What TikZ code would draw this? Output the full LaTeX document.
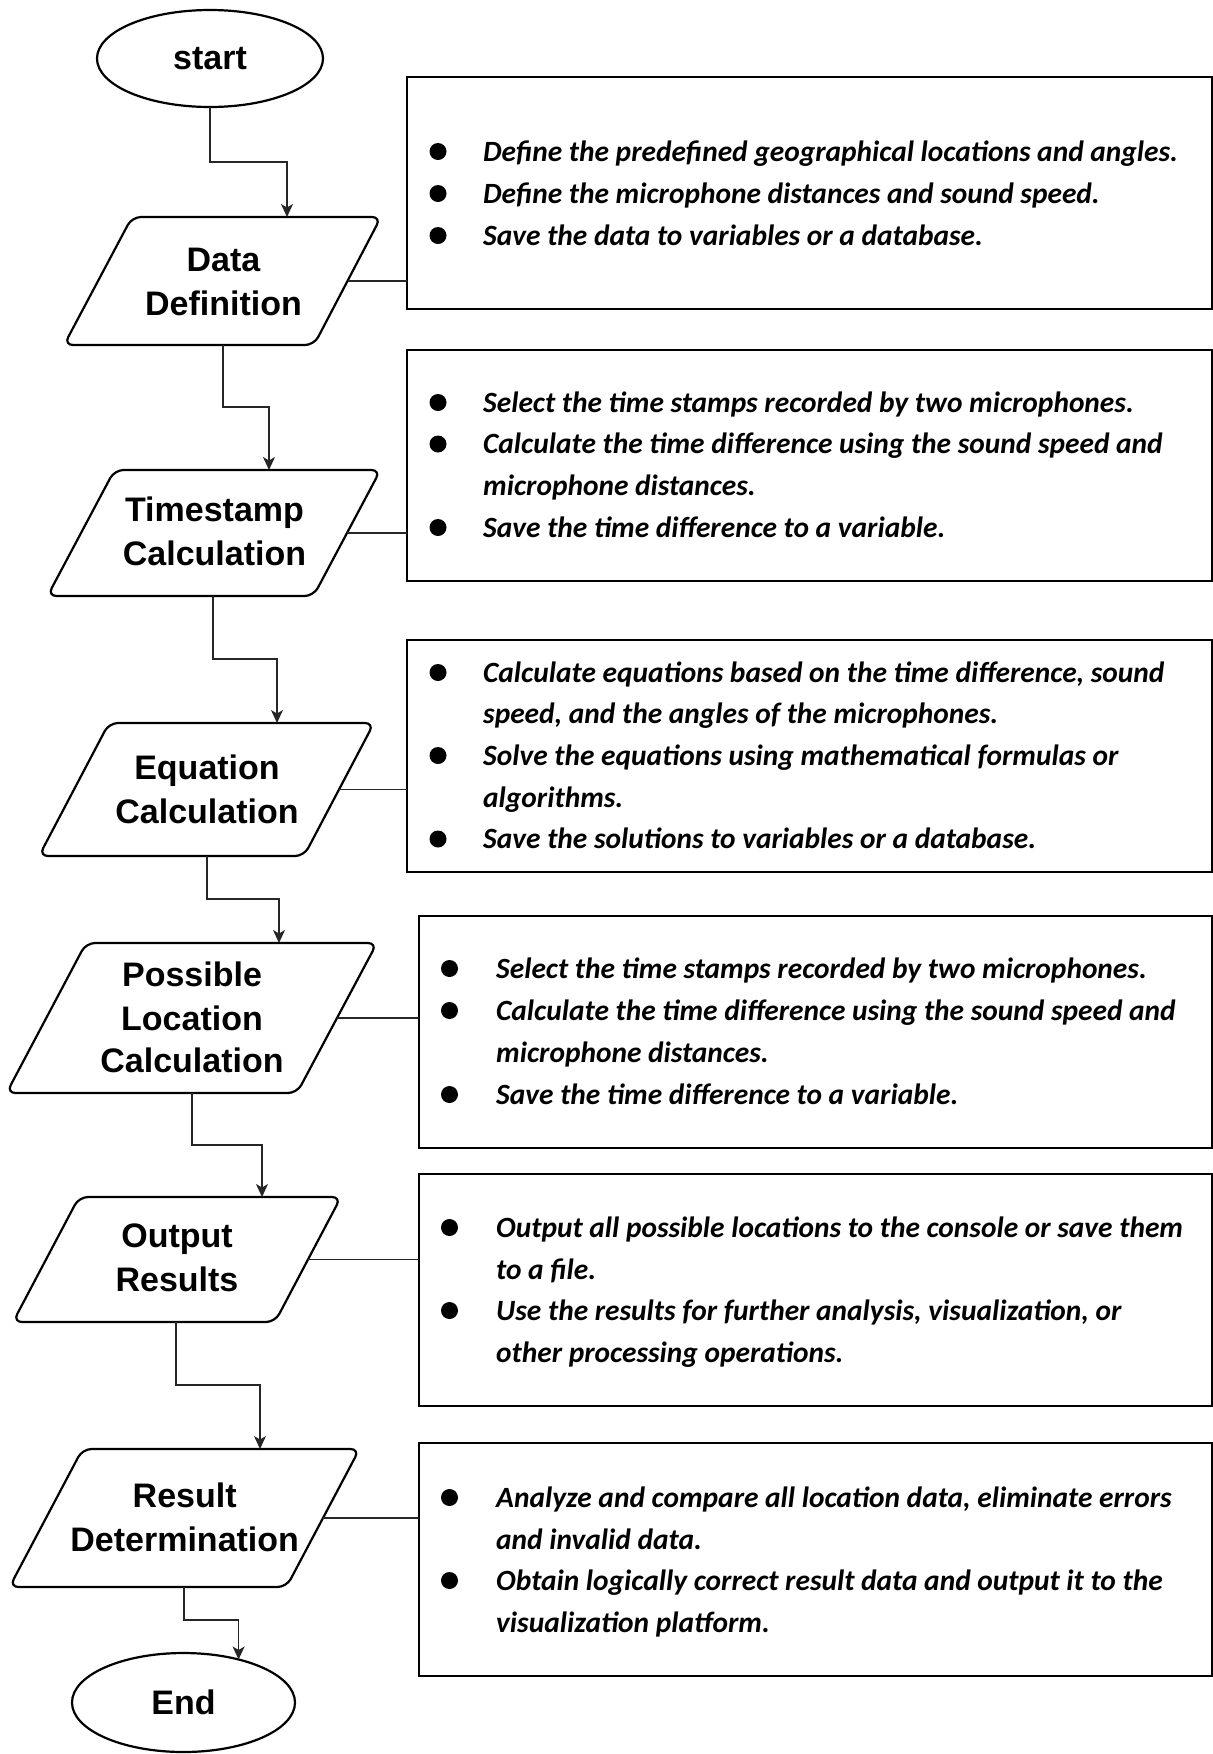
\documentclass[tikz,border=0pt]{standalone}
\usepackage{fontspec}
\setmainfont{Liberation Sans}
\newfontfamily\ffont{Liberation Sans}
\newfontfamily\cfont{Carlito}
\usetikzlibrary{shapes.geometric,arrows.meta}
\begin{document}
\begin{tikzpicture}[x=1pt,y=-1pt,
  shp/.style={draw=black, line width=2.2pt, rounded corners=9pt, line join=round},
  term/.style={ellipse, draw=black, line width=2.2pt, inner sep=0pt, outer sep=0pt, font=\ffont\bfseries\fontsize{34}{44}\selectfont},
  ftext/.style={anchor=base, inner sep=0pt, font=\ffont\bfseries\fontsize{34}{44}\selectfont},
  infobox/.style={draw=black, line width=1.3pt, anchor=north west, inner sep=0pt, outer sep=0pt},
  btext/.style={anchor=base west, inner sep=0pt, font=\cfont\bfseries\itshape\fontsize{29.4}{42}\selectfont},
  conn/.style={draw=black!85, line width=1.4pt},
  arr/.style={conn, -{Stealth[length=13pt,width=12pt,inset=3.5pt]}},
  bul/.style={fill=black}
]
\useasboundingbox (0,0) rectangle (1213,1754);

% terminals
\node[term, minimum width=226pt, minimum height=97pt] (start) at (210,58.5) {start};
\node[term, minimum width=223pt, minimum height=99pt] (end) at (183.5,1702.5) {End};

% parallelograms
\draw[shp] (256,217) -- (381,217) -- (314,345) -- (64,345) -- (132,217) -- cycle;
\node[ftext] (dd1) at (223.5,271) {Data};
\node[ftext] (dd2) at (223.5,315) {Definition};
\coordinate (dd-n) at (287,217); \coordinate (dd-s) at (223,345); \coordinate (dd-e) at (347.5,281);

\draw[shp] (250,470) -- (380.5,470) -- (313.5,596) -- (47.5,596) -- (114.5,470) -- cycle;
\node[ftext] (ts1) at (214.5,521.7) {Timestamp};
\node[ftext] (ts2) at (214.5,565.7) {Calculation};
\coordinate (ts-n) at (269,470); \coordinate (ts-s) at (213,596); \coordinate (ts-e) at (347,533);

\draw[shp] (240,723) -- (374,723) -- (304,856) -- (39,856) -- (109,723) -- cycle;
\node[ftext] (eq1) at (207,779) {Equation};
\node[ftext] (eq2) at (207,823) {Calculation};
\coordinate (eq-n) at (277,723); \coordinate (eq-s) at (207,856); \coordinate (eq-e) at (339,789.5);

\draw[shp] (230,943) -- (377,943) -- (297,1093) -- (6.5,1093) -- (86,943) -- cycle;
\node[ftext] (pl1) at (192,986) {Possible};
\node[ftext] (pl2) at (192,1030) {Location};
\node[ftext] (pl3) at (192,1072.7) {Calculation};
\coordinate (pl-n) at (279,943); \coordinate (pl-s) at (192,1093); \coordinate (pl-e) at (337,1018);

\draw[shp] (210,1197) -- (341,1197) -- (275,1322) -- (13,1322) -- (79,1197) -- cycle;
\node[ftext] (or1) at (177,1247.7) {Output};
\node[ftext] (or2) at (177,1291.7) {Results};
\coordinate (or-n) at (262,1197); \coordinate (or-s) at (176,1322); \coordinate (or-e) at (308,1259.5);

\draw[shp] (220,1449) -- (359.5,1449) -- (286.5,1587) -- (9.5,1587) -- (82.5,1449) -- cycle;
\node[ftext] (rd1) at (184.7,1507) {Result};
\node[ftext] (rd2) at (184.7,1551.7) {Determination};
\coordinate (rd-n) at (260,1449); \coordinate (rd-s) at (184,1587); \coordinate (rd-e) at (323,1518);

% info boxes
\node[infobox, minimum width=805pt, minimum height=232pt] (box1) at (407,77) {};
\node[infobox, minimum width=805pt, minimum height=231pt] (box2) at (407,350) {};
\node[infobox, minimum width=805pt, minimum height=232pt] (box3) at (407,640) {};
\node[infobox, minimum width=793pt, minimum height=232pt] (box4) at (419,916) {};
\node[infobox, minimum width=793pt, minimum height=232pt] (box5) at (419,1174) {};
\node[infobox, minimum width=793pt, minimum height=233pt] (box6) at (419,1443) {};

% flow connectors
\coordinate (j1) at (210,162);
\coordinate (j2) at (223,407);
\coordinate (j3) at (213,659);
\coordinate (j4) at (207,899);
\coordinate (j5) at (192,1145);
\coordinate (j6) at (176,1385);
\coordinate (j7) at (184,1620);
\draw[arr] (start.south) -- (j1) -| (dd-n);
\draw[arr] (dd-s) -- (j2) -| (ts-n);
\draw[arr] (ts-s) -- (j3) -| (eq-n);
\draw[arr] (eq-s) -- (j4) -| (pl-n);
\draw[arr] (pl-s) -- (j5) -| (or-n);
\draw[arr] (or-s) -- (j6) -| (rd-n);
\draw[arr] (rd-s) -- (j7) -| (end.38);

% side connectors
\draw[conn] (dd-e) -- (dd-e -| box1.west);
\draw[conn] (ts-e) -- (ts-e -| box2.west);
\draw[conn] (eq-e) -- (eq-e -| box3.west);
\draw[conn] (pl-e) -- (pl-e -| box4.west);
\draw[conn] (or-e) -- (or-e -| box5.west);
\draw[conn] (rd-e) -- (rd-e -| box6.west);

% box 1
\fill[bul] (438,151.5) circle (8.5pt);
\node[btext] (t1a) at (483,161) {Define the predefined geographical locations and angles.};
\fill[bul] (438,193.5) circle (8.5pt);
\node[btext] (t1b) at (483,203) {Define the microphone distances and sound speed.};
\fill[bul] (438,235.5) circle (8.5pt);
\node[btext] (t1c) at (483,245) {Save the data to variables or a database.};

% box 2
\fill[bul] (438,402.5) circle (8.5pt);
\node[btext] (t2a) at (483,412) {Select the time stamps recorded by two microphones.};
\fill[bul] (438,444) circle (8.5pt);
\node[btext] (t2b) at (483,453.7) {Calculate the time difference using the sound speed and};
\node[btext] (t2c) at (483,495.4) {microphone distances.};
\fill[bul] (438,527.5) circle (8.5pt);
\node[btext] (t2d) at (483,537) {Save the time difference to a variable.};

% box 3
\fill[bul] (438,672.5) circle (8.5pt);
\node[btext] (t3a) at (483,682) {Calculate equations based on the time difference, sound};
\node[btext] (t3b) at (483,723.7) {speed, and the angles of the microphones.};
\fill[bul] (438,755.5) circle (8.5pt);
\node[btext] (t3c) at (483,765.4) {Solve the equations using mathematical formulas or};
\node[btext] (t3d) at (483,807) {algorithms.};
\fill[bul] (438,839) circle (8.5pt);
\node[btext] (t3e) at (483,848.7) {Save the solutions to variables or a database.};

% box 4
\fill[bul] (449.5,968.5) circle (8.5pt);
\node[btext] (t4a) at (496,978) {Select the time stamps recorded by two microphones.};
\fill[bul] (449.5,1010.5) circle (8.5pt);
\node[btext] (t4b) at (496,1020) {Calculate the time difference using the sound speed and};
\node[btext] (t4c) at (496,1062) {microphone distances.};
\fill[bul] (449.5,1094.5) circle (8.5pt);
\node[btext] (t4d) at (496,1104) {Save the time difference to a variable.};

% box 5
\fill[bul] (449.5,1227.5) circle (8.5pt);
\node[btext] (t5a) at (496,1237) {Output all possible locations to the console or save them};
\node[btext] (t5b) at (496,1279) {to a file.};
\fill[bul] (449.5,1310.5) circle (8.5pt);
\node[btext] (t5c) at (496,1320) {Use the results for further analysis, visualization, or};
\node[btext] (t5d) at (496,1362) {other processing operations.};

% box 6
\fill[bul] (449.5,1497.5) circle (8.5pt);
\node[btext] (t6a) at (496,1507) {Analyze and compare all location data, eliminate errors};
\node[btext] (t6b) at (496,1549) {and invalid data.};
\fill[bul] (449.5,1580.5) circle (8.5pt);
\node[btext] (t6c) at (496,1590) {Obtain logically correct result data and output it to the};
\node[btext] (t6d) at (496,1632) {visualization platform.};
\end{tikzpicture}
\end{document}
